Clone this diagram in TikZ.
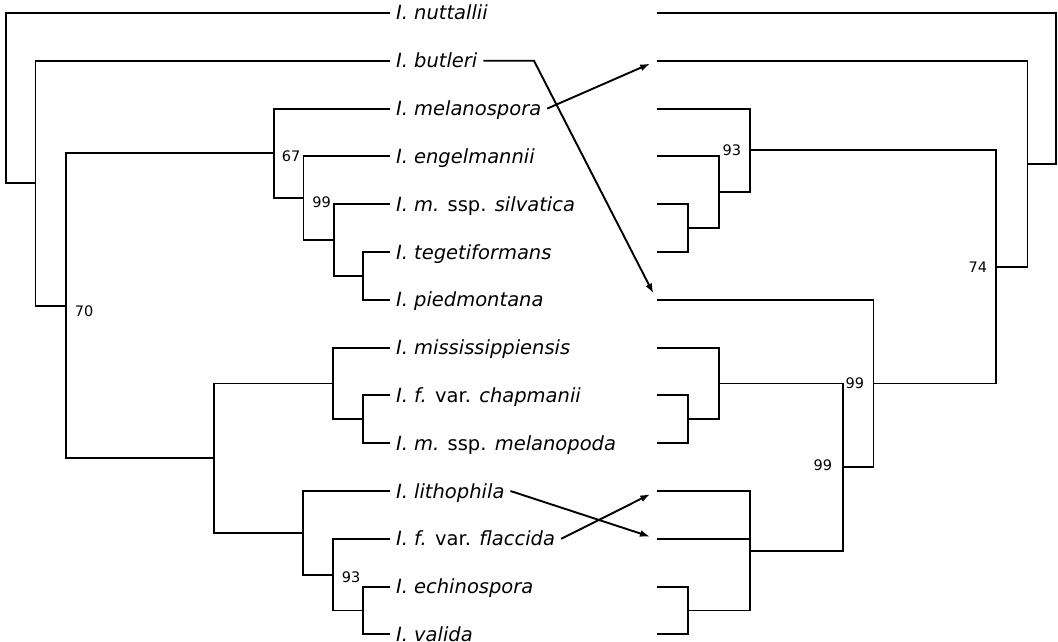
\documentclass[tikz,border=0pt]{standalone}
\usepackage{fontspec}
\setmainfont{DejaVu Sans}
\usetikzlibrary{arrows.meta}
\tikzset{
    taxon/.style = {
        anchor      = west,
        inner sep   = 0pt,
        outer xsep  = 6pt,
        outer ysep  = 0pt,
        text height = 14pt,
        text depth  = 0pt,
        font        = \fontsize{19.5}{21}\selectfont\itshape,
    },
    boot/.style = {
        inner sep = 0pt,
        font      = \fontsize{14.5}{16}\selectfont,
    },
    bootl/.style = {boot, anchor = west},
    bootr/.style = {boot, anchor = east},
    move/.style = {
        line width = 1.9pt,
        -{Latex[length=10pt, width=7pt]},
        shorten >= 7pt,
    },
}

\begin{document}
\begin{tikzpicture}[x=1pt, y=-47.8pt, line width=1.9pt]
    \useasboundingbox (0,-0.272) rectangle (1058,13.159);

    % taxa of the left tree
    \foreach \name/\txt [count=\i from 0] in {
        nut/{I. nuttallii}, but/{I. butleri}, mel/{I. melanospora},
        eng/{I. engelmannii}, sil/{I. m. \textup{ssp.} silvatica},
        teg/{I. tegetiformans}, pie/{I. piedmontana},
        mis/{I. mississippiensis}, cha/{I. f. \textup{var.} chapmanii},
        mpo/{I. m. \textup{ssp.} melanopoda}, lit/{I. lithophila},
        fla/{I. f. \textup{var.} flaccida}, ech/{I. echinospora}, val/{I. valida}}
        \node[taxon] (\name) at (390,\i) {\txt};

    % leaves of the right tree
    \foreach \i in {0,...,13}
        \coordinate (R\i) at (656.6,\i);

    % left tree
    \coordinate (a1) at (363,5.5);
    \coordinate (a2) at (334,4.75);
    \coordinate (a3) at (303.5,3.875);
    \coordinate (a4) at (274,2.9375);
    \coordinate (b1) at (363,8.5);
    \coordinate (b2) at (333,7.75);
    \coordinate (c1) at (363,12.5);
    \coordinate (c2) at (333,11.75);
    \coordinate (c3) at (303,10.875);
    \coordinate (d1) at (214,9.3125);
    \coordinate (e1) at (66,6.125);
    \coordinate (e2) at (35.5,3.5625);
    \coordinate (e3) at (6,1.78);

    \draw (teg.west) -| (a1) |- (pie.west);
    \draw (sil.west) -| (a2) |- (a1);
    \draw (eng.west) -| (a3) |- (a2);
    \draw (mel.west) -| (a4) |- (a3);
    \draw (cha.west) -| (b1) |- (mpo.west);
    \draw (mis.west) -| (b2) |- (b1);
    \draw (ech.west) -| (c1) |- (val.west);
    \draw (fla.west) -| (c2) |- (c1);
    \draw (lit.west) -| (c3) |- (c2);
    \draw (b2) -| (d1) |- (c3);
    \draw (a4) -| (e1) |- (d1);
    \draw (but.west) -| (e2) |- (e1);
    \draw (nut.west) -| (e3) |- (e2);

    \node[bootl] (s67) at ([xshift=7pt, yshift=-3pt]a4) {67};
    \node[bootl] (s99a) at ([xshift=8pt, yshift=-4pt]a3) {99};
    \node[bootl] (s70) at ([xshift=8pt, yshift=-5pt]e1) {70};
    \node[bootl] (s93a) at ([xshift=8pt, yshift=-3pt]c2) {93};

    % right tree
    \coordinate (q1) at (688,4.5);
    \coordinate (q2) at (719,3.75);
    \coordinate (q3) at (750,2.875);
    \coordinate (s1) at (688,8.5);
    \coordinate (s2) at (719,7.75);
    \coordinate (t1) at (688,12.5);
    \coordinate (t2) at (750,11.25);
    \coordinate (u1) at (842.6,9.5);
    \coordinate (u2) at (873.5,7.75);
    \coordinate (v1) at (996,5.3125);
    \coordinate (v2) at (1027.5,3.15625);
    \coordinate (v3) at (1056,1.578);

    \draw (R4) -| (q1) |- (R5);
    \draw (R3) -| (q2) |- (q1);
    \draw (R2) -| (q3) |- (q2);
    \draw (R8) -| (s1) |- (R9);
    \draw (R7) -| (s2) |- (s1);
    \draw (R12) -| (t1) |- (R13);
    \draw (R10) -| (t2) |- (t1);
    \draw (R11) -- (R11 -| t2);
    \draw (s2) -| (u1) |- (t2);
    \draw (R6) -| (u2) |- (u1);
    \draw (q3) -| (v1) |- (u2);
    \draw (R1) -| (v2) |- (v1);
    \draw (R0) -| (v3) |- (v2);

    \node[bootr] (s93b) at ([xshift=-8pt]q3) {93};
    \node[bootr] (s74) at ([xshift=-8pt]v1) {74};
    \node[bootr] (s99b) at ([xshift=-8.5pt]u2) {99};
    \node[bootr] (s99c) at ([xshift=-9.5pt, yshift=2pt]u1) {99};

    % taxa that moved
    \coordinate (bk) at (534,1);
    \draw[move] (but.east) -- (bk) -- (R6);
    \draw[move] (mel.east) -- (R1);
    \draw[move] (lit.east) -- (R11);
    \draw[move] (fla.east) -- (R10);
\end{tikzpicture}
\end{document}
